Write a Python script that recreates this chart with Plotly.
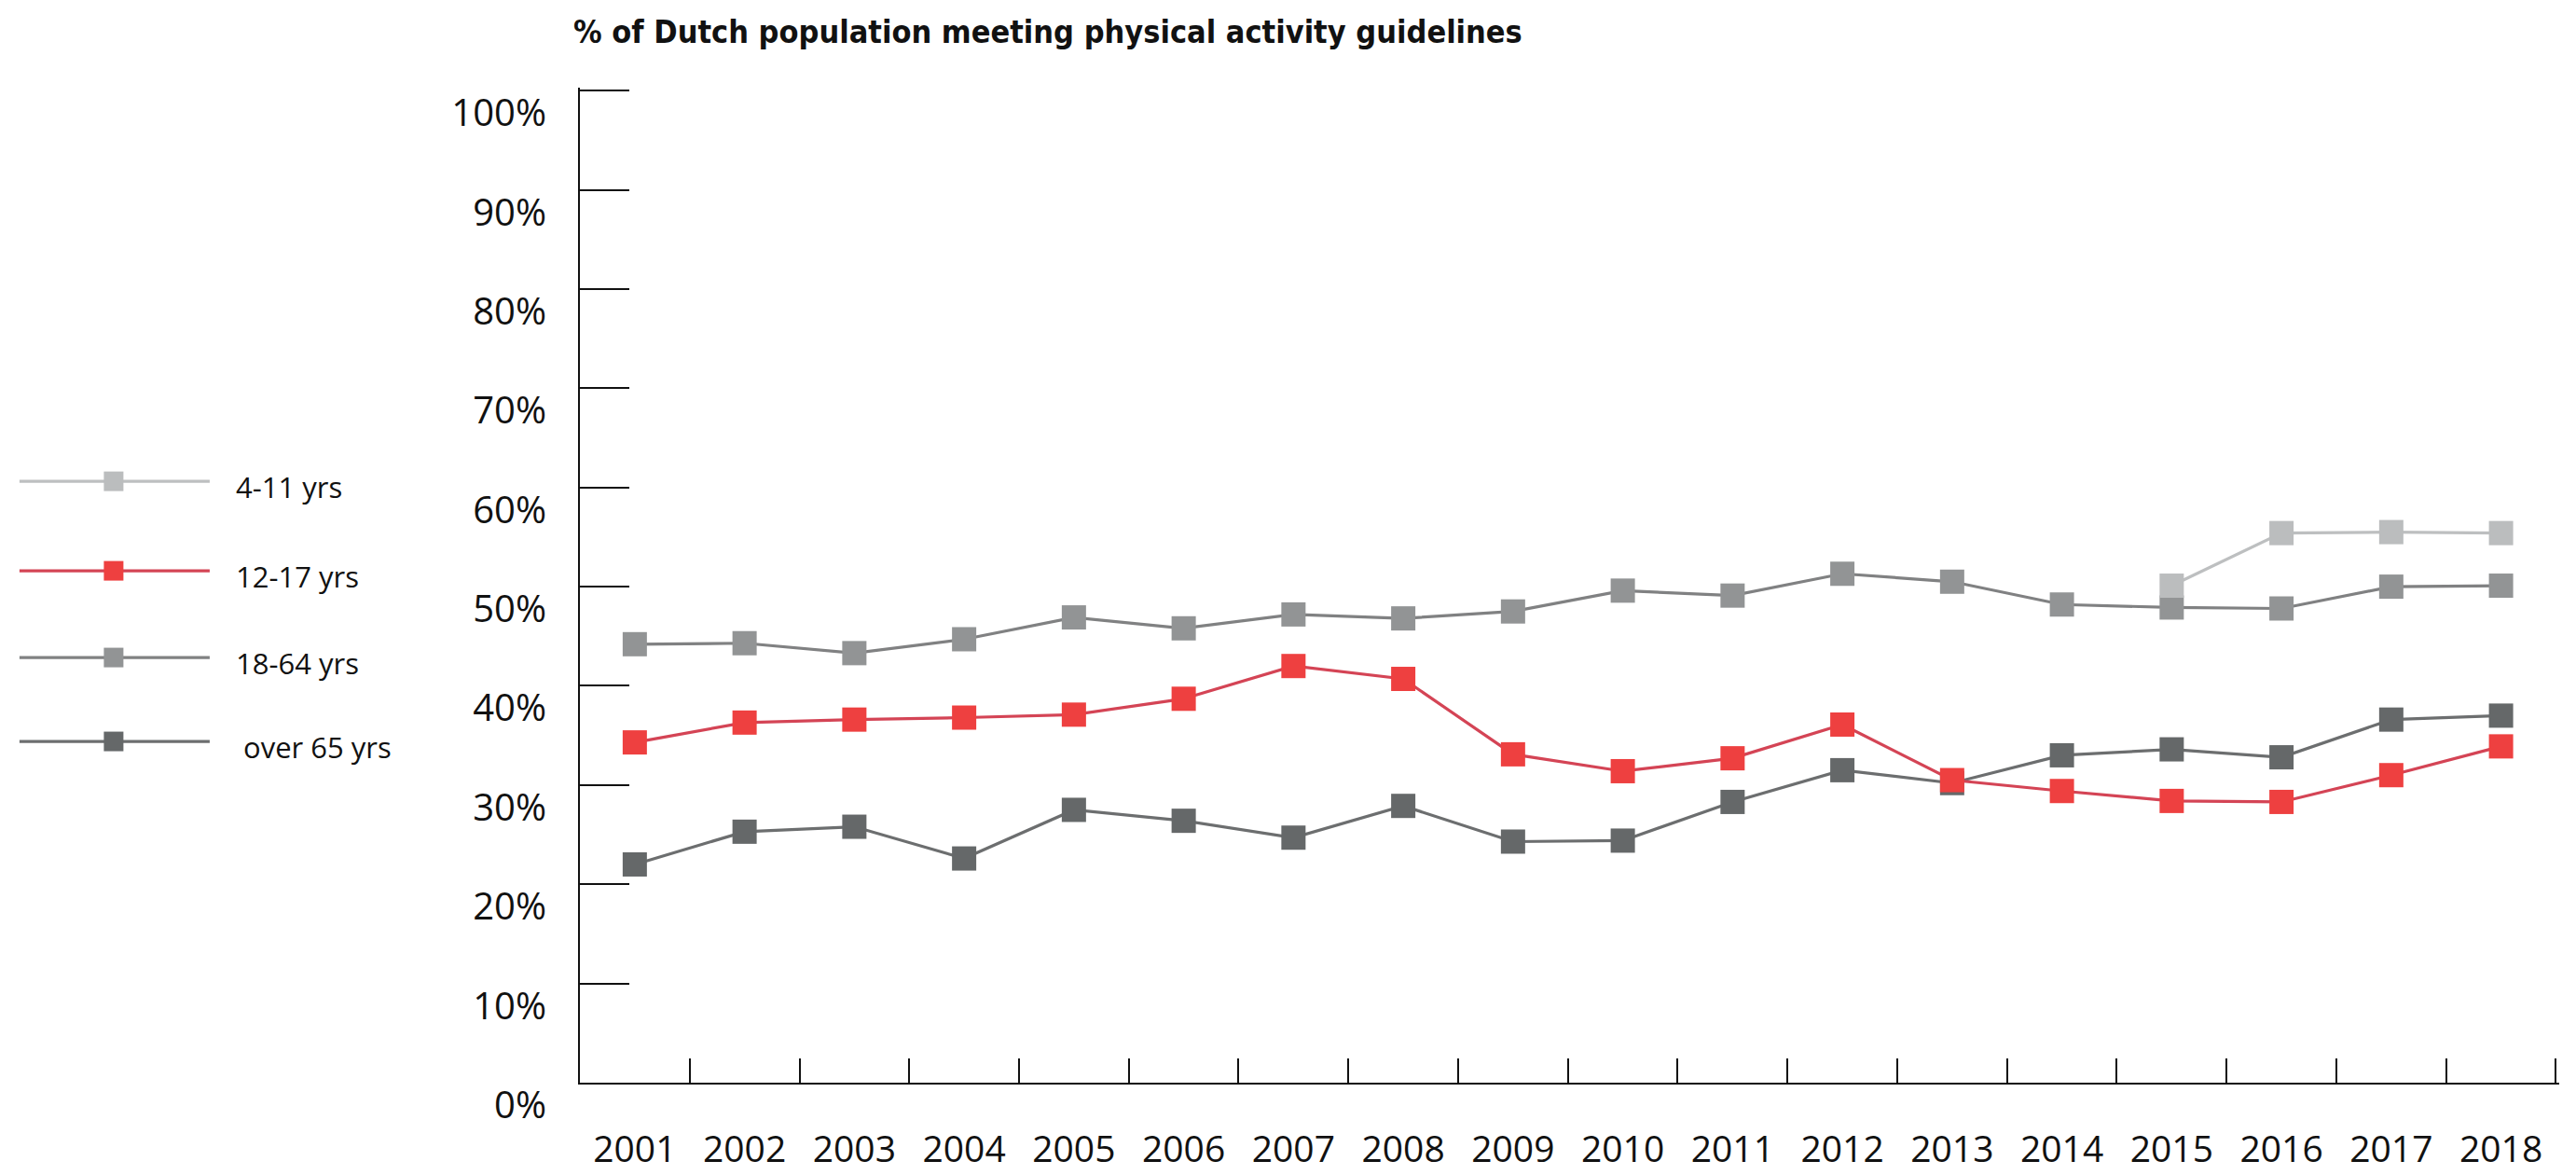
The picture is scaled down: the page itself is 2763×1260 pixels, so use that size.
import plotly.graph_objects as go

years = [str(y) for y in range(2001, 2019)]
tick_vals = [0, 10, 20, 30, 40, 50, 60, 70, 80, 90, 100]
tick_text = ["0%", "10%", "20%", "30%", "40%", "50%", "60%", "70%", "80%", "90%", "100%"]

age_4_11 = [None] * 14 + [50.1, 55.4, 55.5, 55.4]
age_12_17 = [34.3, 36.3, 36.6, 36.8, 37.1, 38.7, 42.0, 40.7, 33.1, 31.4,
             32.7, 36.1, 30.5, 29.4, 28.4, 28.3, 31.0, 33.9]
age_18_64 = [44.2, 44.3, 43.3, 44.7, 46.9, 45.8, 47.2, 46.8, 47.5, 49.6,
             49.1, 51.3, 50.5, 48.2, 47.9, 47.8, 50.0, 50.1]
age_over_65 = [22.0, 25.3, 25.8, 22.6, 27.5, 26.4, 24.7, 27.9, 24.3, 24.4,
               28.3, 31.5, 30.2, 33.0, 33.6, 32.8, 36.6, 37.0]

series_names = ["4-11 yrs", "12-17 yrs", "18-64 yrs", "\u00a0over 65 yrs"]
marker_colors = ["#BBBDBE", "#EE4040", "#929495", "#656869"]
line_colors = ["#BDBFC0", "#D44455", "#808182", "#6C6E6F"]

W, H = 2763, 1260
# value-100 line at y=97 px, value-0 at y=1161 px; x axis from 622 to 2741 px
Y_TOP_PAD = 0.3       # small extra range so the 100% tick is drawn
X_RIGHT_PAD = 0.03    # small extra range so the last boundary tick is drawn
L, B = 622, 99
T = 97 - 1064 * Y_TOP_PAD / 100
R = 22 - 2119 * X_RIGHT_PAD / 18
PW, PH = W - L - R, H - T - B


def px(x):
    return (x - L) / PW


def py(y):
    return (H - B - y) / PH


fig = go.Figure()
data = [age_4_11, age_12_17, age_18_64, age_over_65]
# drawing order: over 65, 18-64, 12-17, 4-11 (last on top)
for i in [3, 2, 1, 0]:
    fig.add_trace(go.Scatter(
        x=years, y=data[i], name=series_names[i], mode="lines+markers",
        line=dict(color=line_colors[i], width=3.2),
        marker=dict(symbol="square", size=26, color=marker_colors[i], line=dict(width=0)),
        showlegend=False, connectgaps=False,
    ))

shapes = []
annotations = []
legend_rows = [516, 612, 705, 795]
for i, yrow in enumerate(legend_rows):
    shapes.append(dict(type="line", xref="paper", yref="paper",
                       x0=px(21), x1=px(225), y0=py(yrow), y1=py(yrow),
                       line=dict(color=line_colors[i], width=3.2)))
    shapes.append(dict(type="rect", xref="paper", yref="paper",
                       x0=px(122 - 10.5), x1=px(122 + 10.5),
                       y0=py(yrow - 10.5), y1=py(yrow + 10.5),
                       line=dict(width=0), fillcolor=marker_colors[i]))
    annotations.append(dict(xref="paper", yref="paper", x=px(251), y=py(yrow + 6),
                            text=series_names[i], showarrow=False,
                            xanchor="left", yanchor="middle",
                            font=dict(family="Open Sans", size=31, color="#111111")))

annotations.append(dict(xref="paper", yref="paper", x=px(613), y=py(34),
                        text="<b>% of Dutch population meeting physical activity guidelines</b>",
                        showarrow=False, xanchor="left", yanchor="middle",
                        font=dict(family="DejaVu Sans Condensed", size=34,
                                  color="#111111")))

fig.update_layout(
    width=W, height=H,
    margin=dict(l=L, r=R, t=T, b=B, pad=0, autoexpand=False),
    paper_bgcolor="white", plot_bgcolor="white",
    shapes=shapes, annotations=annotations,
    showlegend=False,
)
fig.update_xaxes(
    type="category", categoryorder="array", categoryarray=years,
    range=[-0.5, 17.5 + X_RIGHT_PAD], showgrid=False, zeroline=False, automargin=False,
    showline=True, linecolor="#111111", linewidth=2,
    ticks="inside", tickson="boundaries", ticklen=26, tickwidth=2, tickcolor="#111111",
    tickfont=dict(family="Open Sans", size=39, color="#111111"),
    ticklabelstandoff=36,
)
fig.update_yaxes(
    range=[0, 100 + Y_TOP_PAD], tickvals=tick_vals, ticktext=tick_text,
    showgrid=False, zeroline=False, automargin=False,
    showline=True, linecolor="#111111", linewidth=2,
    ticks="inside", ticklen=53, tickwidth=2, tickcolor="#111111",
    tickfont=dict(family="Open Sans", size=40, color="#111111"),
    ticklabelshift=24, ticklabelstandoff=26,
)

fig.write_html("out.html")
